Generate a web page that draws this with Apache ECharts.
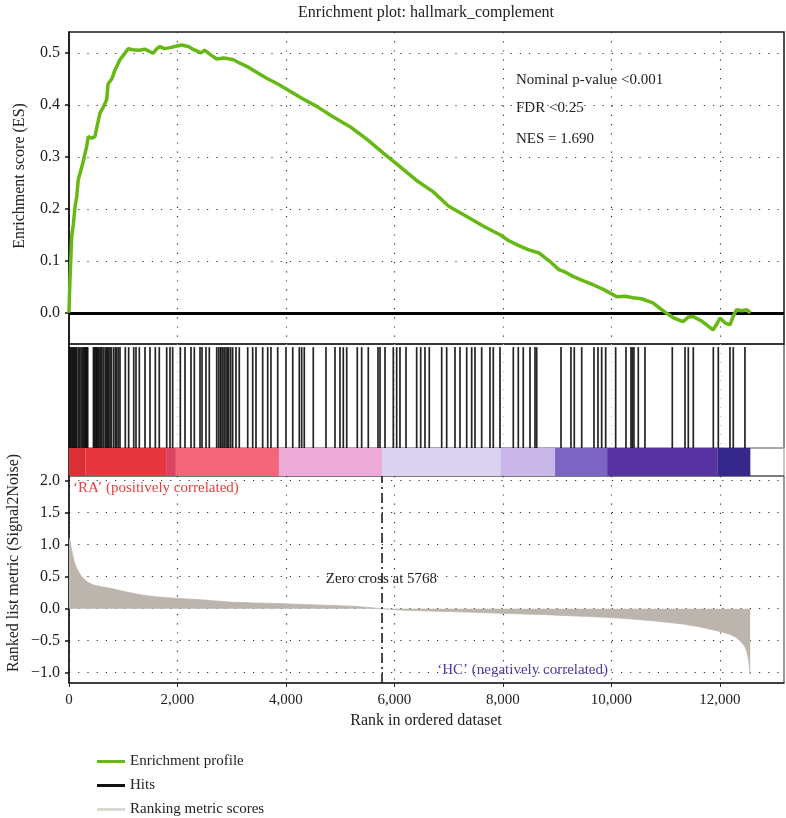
<!DOCTYPE html>
<html><head><meta charset="utf-8">
<script src="https://cdn.jsdelivr.net/npm/echarts@6/dist/echarts.min.js"></script>
<style>html,body{margin:0;padding:0;background:#fff}#c{width:786px;height:818px}</style>
</head><body><div id="c"></div>
<script>
// ---- data ----
const esPoints = [[0,0],[10,0.04],[18,0.063],[30,0.096],[50,0.147],[80,0.17],[111,0.204],[142,0.223],[171,0.256],[203,0.268],[260,0.29],[326,0.32],[356,0.339],[420,0.336],[479,0.339],[520,0.36],[571,0.384],[630,0.395],[695,0.41],[719,0.44],[790,0.45],[848,0.467],[900,0.478],[940,0.487],[1000,0.495],[1088,0.508],[1180,0.506],[1300,0.505],[1400,0.507],[1493,0.502],[1548,0.499],[1620,0.508],[1677,0.512],[1760,0.508],[1862,0.51],[1950,0.512],[2077,0.515],[2200,0.512],[2300,0.506],[2433,0.5],[2500,0.505],[2600,0.497],[2723,0.488],[2850,0.49],[3023,0.487],[3150,0.48],[3276,0.474],[3450,0.463],[3644,0.451],[3850,0.44],[4074,0.426],[4300,0.412],[4566,0.397],[4850,0.378],[5180,0.358],[5500,0.333],[5794,0.307],[6101,0.281],[6400,0.255],[6710,0.233],[7000,0.205],[7331,0.185],[7650,0.166],[7945,0.15],[8100,0.139],[8253,0.131],[8450,0.122],[8664,0.115],[8850,0.1],[9032,0.083],[9150,0.078],[9290,0.07],[9450,0.063],[9659,0.054],[9850,0.045],[10096,0.031],[10250,0.032],[10396,0.029],[10550,0.027],[10765,0.019],[10900,0.008],[11017,-0.001],[11150,-0.01],[11318,-0.017],[11420,-0.008],[11502,-0.007],[11650,-0.015],[11871,-0.033],[11950,-0.02],[12000,-0.01],[12100,-0.02],[12184,-0.023],[12250,-0.005],[12308,0.006],[12400,0.004],[12492,0.006],[12560,0.0]];

const hitRanks = [6,15,30,45,68,80,95,110,129,145,175,200,225,253,270,290,300,313,320,335,345,450,466,480,500,510,529,545,570,590,608,640,670,695,710,730,756,780,820,853,880,910,940,1038,1100,1193,1235,1296,1401,1493,1591,1664,1801,1862,1911,2052,2138,2249,2310,2415,2452,2525,2586,2723,2759,2790,2800,2833,2860,2894,2920,2944,2980,3017,3078,3139,3294,3386,3447,3570,3663,3723,3847,4000,4124,4245,4289,4337,4503,4737,4903,4995,5056,5119,5314,5395,5517,5696,5733,5825,5978,6040,6101,6212,6409,6483,6562,6641,6870,6962,7115,7207,7331,7423,7484,7607,7760,7821,7945,8190,8282,8374,8498,8590,8621,9069,9253,9314,9451,9677,9751,9819,9893,10077,10267,10359,10383,10414,10494,10617,11121,11355,11416,11508,11877,11969,12184,12245,12460];

const metricPoints = [[0,1.1],[20,1.05],[50,0.9],[100,0.72],[142,0.63],[200,0.54],[264,0.47],[350,0.41],[448,0.37],[600,0.34],[756,0.32],[900,0.29],[1063,0.26],[1200,0.235],[1365,0.21],[1550,0.19],[1800,0.17],[2100,0.155],[2415,0.14],[2700,0.12],[3023,0.1],[3400,0.09],[3829,0.08],[4300,0.065],[4866,0.05],[5300,0.035],[5768,0],[6101,-0.02],[6600,-0.035],[7207,-0.05],[7700,-0.065],[8253,-0.08],[8700,-0.09],[9106,-0.105],[9500,-0.12],[9788,-0.13],[10200,-0.15],[10710,-0.185],[11000,-0.21],[11318,-0.24],[11600,-0.28],[11816,-0.32],[12000,-0.355],[12184,-0.4],[12300,-0.45],[12369,-0.5],[12450,-0.58],[12492,-0.66],[12530,-0.8],[12556,-1.03]];

const bandStops = [0,300,1790,1970,3870,5768,7950,8960,9920,11950,12560];
const bandColors = ['#d83036','#e5373d','#dc4262','#f3667a','#eeaad8','#dcd3f2','#c9b7ea','#7c64c2','#5632a2','#36288a'];

const esTicks = [0,0.1,0.2,0.3,0.4,0.5];
const metricTicks = [-1,-0.5,0,0.5,1,1.5,2];
const rankTicks = [0,2000,4000,6000,8000,10000,12000];
const zeroCross = 5768;
const statsLines = ['Nominal p-value <0.001','FDR <0.25','NES = 1.690'];
const titleText = 'Enrichment plot: hallmark_complement';
const seriesNames = ['Enrichment profile','Hits','Ranking metric scores'];

// ---- chart ----
const FONT = 'Liberation Serif';
const chart = echarts.init(document.getElementById('c'), null, {renderer:'canvas'});
const RMAX = 13180;
const dotted = {show:true, lineStyle:{color:'#333', width:1.2, type:[1.2,8]}};
const fmt1 = v => (v < 0 ? '\u2212' : '') + Math.abs(v).toFixed(1);
const fmtRank = v => v.toLocaleString('en-US');
const hidden = 'rgba(0,0,0,0)';

const bandData = bandColors.map((c,i)=>[bandStops[i], bandStops[i+1], i]);

function xAx(gi, showLabels, split){
  return {
    type:'value', gridIndex:gi, min:0, max:RMAX,
    axisLine:{show:showLabels, onZero:false, lineStyle:{color:'#222', width:1.5}},
    axisTick:{show:showLabels, customValues:rankTicks, length:4, lineStyle:{color:'#222'}},
    axisLabel:{show:showLabels, customValues:rankTicks, formatter:fmtRank, fontFamily:FONT, fontSize:15, color:'#222', margin:10},
    splitLine: split
  };
}

const option = {
  animation:false,
  backgroundColor:'#fff',
  grid:[
    {left:69, right:2, top:32, height:312, show:true, borderColor:'#1a1a1a', borderWidth:1.5},
    {left:69, right:2, top:344, height:104, show:true, borderColor:'#1a1a1a', borderWidth:1},
    {left:69, right:2, top:448, height:28, show:true, borderColor:'#b8b3af', borderWidth:1.5},
    {left:69, right:2, top:476, height:207, show:true, borderColor:'#333', borderWidth:1}
  ],
  xAxis:[
    xAx(0,false,dotted),
    xAx(1,false,{show:true, lineStyle:{color:'#bbb', width:1, type:[1,8]}}),
    xAx(2,false,{show:false}),
    xAx(3,true,dotted)
  ],
  yAxis:[
    {type:'value', gridIndex:0, min:-0.06, max:0.54,
     axisLine:{show:true, onZero:false, lineStyle:{color:'#111', width:1.5}},
     axisTick:{show:true, customValues:esTicks, length:4, lineStyle:{color:'#111', width:1.5}},
     axisLabel:{customValues:esTicks, formatter:fmt1, fontFamily:FONT, fontSize:16, color:'#222', margin:9},
     splitLine:dotted},
    {type:'value', gridIndex:1, min:0, max:1, axisLine:{show:true, onZero:false, lineStyle:{color:'#111', width:1.5}}, axisTick:{show:false}, axisLabel:{show:false}, splitLine:{show:false}},
    {type:'value', gridIndex:2, min:0, max:1, axisLine:{show:true, onZero:false, lineStyle:{color:'#111', width:1.5}}, axisTick:{show:false}, axisLabel:{show:false}, splitLine:{show:false}},
    {type:'value', gridIndex:3, min:-1.16, max:2.07,
     axisLine:{show:true, onZero:false, lineStyle:{color:'#111', width:1.5}},
     axisTick:{show:true, customValues:metricTicks, length:4, lineStyle:{color:'#111', width:1.5}},
     axisLabel:{customValues:metricTicks, formatter:fmt1, fontFamily:FONT, fontSize:16, color:'#222', margin:9},
     splitLine:dotted}
  ],
  legend:{
    orient:'vertical', left:97, top:754, height:90, padding:0, itemWidth:28, itemHeight:3, itemGap:9, icon:'rect',
    textStyle:{fontFamily:FONT, fontSize:15, color:'#222'},
    data:[
      {name:seriesNames[0], itemStyle:{color:'#66b814'}},
      {name:seriesNames[1], itemStyle:{color:'#111'}},
      {name:seriesNames[2], itemStyle:{color:'#dcd8d4'}}
    ]
  },
  graphic:[
    {type:'text', x:426, y:13, style:{text:titleText, font:'16px "Liberation Serif"', fill:'#222', textAlign:'center', textVerticalAlign:'middle'}},
    {type:'text', x:20, y:176, rotation:Math.PI/2, style:{text:'Enrichment score (ES)', font:'16px "Liberation Serif"', fill:'#222', textAlign:'center', textVerticalAlign:'middle'}},
    {type:'text', x:14, y:563, rotation:Math.PI/2, style:{text:'Ranked list metric (Signal2Noise)', font:'16px "Liberation Serif"', fill:'#222', textAlign:'center', textVerticalAlign:'middle'}},
    {type:'text', x:426, y:721, style:{text:'Rank in ordered dataset', font:'16px "Liberation Serif"', fill:'#222', textAlign:'center', textVerticalAlign:'middle'}}
  ],
  series:[
    {name:seriesNames[0], type:'line', xAxisIndex:0, yAxisIndex:0, data:esPoints, showSymbol:false, silent:true,
     lineStyle:{color:'#66b814', width:3.5}, itemStyle:{color:'#66b814'}, z:5,
     markLine:{silent:true, symbol:'none', label:{show:false}, lineStyle:{color:'#000', width:3, type:'solid'}, data:[{yAxis:0}]},
     markPoint:{silent:true, symbol:'circle', symbolSize:1, itemStyle:{color:hidden},
       label:{show:true, position:'inside', align:'left', verticalAlign:'middle', fontFamily:FONT, fontSize:15, color:'#222', formatter:p=>p.name},
       data:[
         {name:statsLines[0], coord:[8240,0.448]},
         {name:statsLines[1], coord:[8240,0.394]},
         {name:statsLines[2], coord:[8240,0.335]}
       ]}
    },
    {name:seriesNames[1], type:'custom', xAxisIndex:1, yAxisIndex:1, data:hitRanks.map(r=>[r]), silent:true,
     itemStyle:{color:'#111'}, encode:{x:0},
     renderItem:(params, api)=>{
       const r = api.value(0);
       const p0 = api.coord([r,0]); const p1 = api.coord([r,0.97]);
       return {type:'line', shape:{x1:p0[0], y1:p0[1], x2:p1[0], y2:p1[1]}, style:{stroke:'#111', lineWidth:1.7, opacity:0.92}};
     }},
    {type:'custom', xAxisIndex:2, yAxisIndex:2, data:bandData, silent:true, encode:{x:[0,1]},
     renderItem:(params, api)=>{
       const a = api.coord([api.value(0),1]); const b = api.coord([api.value(1),0]);
       return {type:'rect', shape:{x:a[0], y:a[1], width:b[0]-a[0], height:b[1]-a[1]}, style:{fill:bandColors[api.value(2)]}};
     }},
    {name:seriesNames[2], type:'line', xAxisIndex:3, yAxisIndex:3, data:metricPoints, showSymbol:false, silent:true,
     lineStyle:{color:'#bcb5ae', width:0.8}, itemStyle:{color:'#dcd8d4'}, areaStyle:{color:'#bcb5ae', opacity:1},
     markLine:{silent:true, symbol:'none', label:{show:false}, lineStyle:{color:'#111', width:1.5, type:[10,4,2,4]}, data:[{xAxis:zeroCross}]},
     markPoint:{silent:true, symbol:'circle', symbolSize:1, itemStyle:{color:hidden},
       label:{show:true, position:'inside', verticalAlign:'middle', fontFamily:FONT, fontSize:15},
       data:[
         {name:'Zero cross at ' + zeroCross, coord:[5760,0.46], label:{align:'center', color:'#222', formatter:p=>p.name}},
         {name:'\u2018RA\u2019 (positively correlated)', coord:[74,1.88], label:{align:'left', color:'#e5403e', formatter:p=>p.name}},
         {name:'\u2018HC\u2019 (negatively correlated)', coord:[9935,-0.96], label:{align:'right', color:'#4e3ca0', formatter:p=>p.name}}
       ]}
    }
  ]
};
chart.setOption(option);
</script></body></html>
